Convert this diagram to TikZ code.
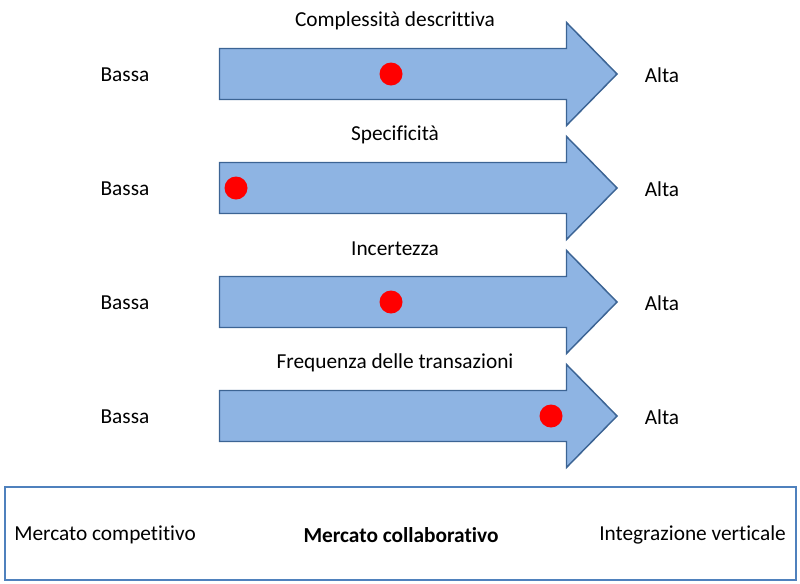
\documentclass[tikz,border=0pt]{standalone}
\usepackage{fontspec}
\setmainfont[Ligatures={NoCommon}]{Carlito}
\definecolor{arrfill}{HTML}{8EB4E3}
\definecolor{arrline}{HTML}{3C6494}
\definecolor{boxline}{HTML}{4F81BD}
\begin{document}
\begin{tikzpicture}[x=0.75pt,y=-0.75pt,
  lbl/.style={font=\fontsize{16}{19}\selectfont, inner sep=0pt, anchor=center},
  dot/.style={fill=red, draw=none},
  arr/.style={fill=arrfill, draw=arrline, line width=1.1pt, line join=miter}]
\useasboundingbox (0,0) rectangle (800,583);
\foreach \cy/\title/\dx [count=\i] in {74/{Complessità descrittiva}/391, 188/{Specificità}/236, 302/{Incertezza}/391, 416/{Frequenza delle transazioni}/551}{
  \draw[arr] (219.5,\cy-25.5) -- (566.5,\cy-25.5) -- (566.5,\cy-51.5) -- (617,\cy) -- (566.5,\cy+51.5) -- (566.5,\cy+25.5) -- (219.5,\cy+25.5) -- cycle;
  \fill[dot] (\dx,\cy) circle (11.5);
  \node[lbl] (t\i) at (395,\cy-53) {\title};
  \node[lbl] (b\i) at (125,\cy+1) {Bassa};
  \node[lbl] (a\i) at (662,\cy+1) {Alta};
}
\draw[boxline, line width=1.3pt] (5,487) rectangle (796,580);
\node[lbl, anchor=west] (mc) at (14,535) {Mercato competitivo};
\node[lbl] (mcol) at (401,535) {\bfseries Mercato collaborativo};
\node[lbl, anchor=east] (iv) at (786,535) {Integrazione verticale};
\end{tikzpicture}
\end{document}
